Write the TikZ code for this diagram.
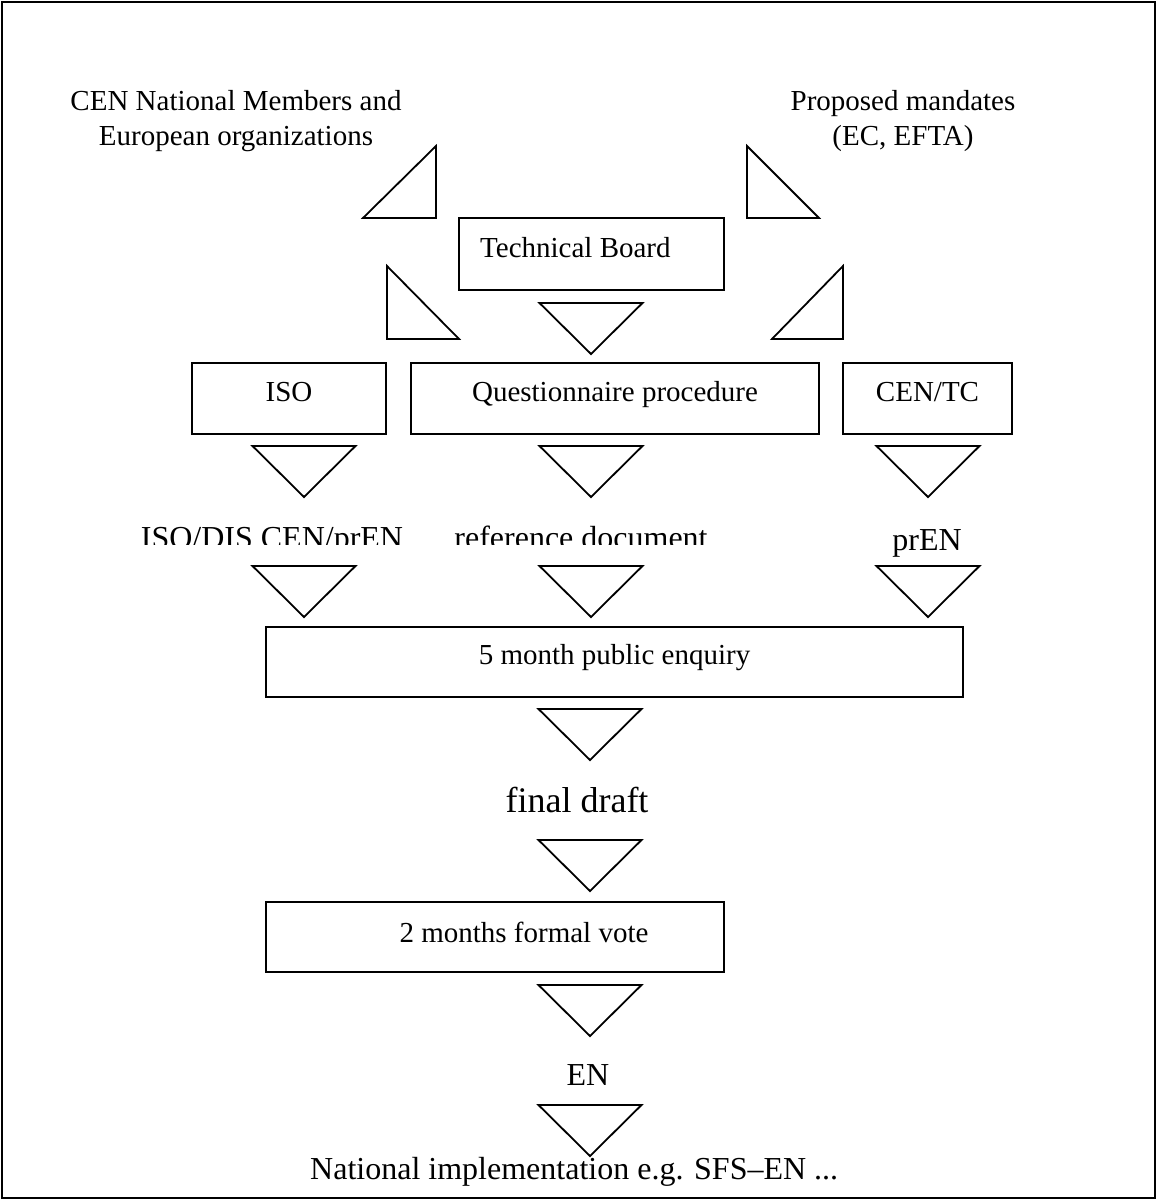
\documentclass[tikz,border=0pt]{standalone}
\usepackage{fontspec}
\setmainfont{Liberation Serif}
\begin{document}
\begin{tikzpicture}[x=1pt,y=-1pt,
  box/.style={draw, line width=1.8pt, inner sep=0pt, font=\fontsize{29}{34}\selectfont, text height=19pt, text depth=14pt},
  lbl/.style={inner sep=0pt, font=\fontsize{32}{36}\selectfont, anchor=base},
  btxt/.style={inner sep=0pt, font=\fontsize{29}{34}\selectfont, anchor=base},
  tlbl/.style={inner sep=0pt, font=\fontsize{29}{35}\selectfont, align=center},
  tri/.style={draw, line width=1.8pt, line join=miter},
  downtri/.pic={\draw[tri] (-51.5,0) -- (51.5,0) -- (0,51) -- cycle;}]
\useasboundingbox (0,0) rectangle (1157,1200);
\draw[line width=2.5pt] (2,2) rectangle (1155,1198);

% top labels
\node[tlbl] (cen) at (236,121) {CEN National Members and\\European organizations};
\node[tlbl] (mand) at (903,121) {Proposed mandates\\(EC, EFTA)};

% side triangles
\draw[tri] (436,146) -- (363,218) -- (436,218) -- cycle;
\draw[tri] (387,266) -- (387,339) -- (459,339) -- cycle;
\draw[tri] (747,146) -- (747,218) -- (819,218) -- cycle;
\draw[tri] (843,266) -- (772,339) -- (843,339) -- cycle;

% boxes
\node[box, minimum width=265pt, minimum height=72pt] (tb) at (591.5,254) {};
\node[btxt, anchor=base west] (tbt) at (480,257) {Technical Board};
\node[box, minimum width=194pt, minimum height=71pt] (iso) at (289,398.5) {ISO};
\node[box, minimum width=408pt, minimum height=71pt] (q) at (615,398.5) {Questionnaire procedure};
\node[box, minimum width=169pt, minimum height=71pt] (ctc) at (927.5,398.5) {CEN/TC};
\node[box, minimum width=697pt, minimum height=70pt] (pe) at (614.5,662) {5 month public enquiry};
\node[box, minimum width=458pt, minimum height=70pt] (vote) at (495,937) {};
\node[btxt] (votet) at (524,942) {2 months formal vote};

% labels
\begin{scope}
\clip (100,500) rectangle (800,544);
\node[lbl] (isodis) at (272,548) {ISO/DIS CEN/prEN};
\node[lbl] (ref) at (581,548) {reference document};
\end{scope}
\node[lbl] (pren) at (927,550) {prEN};
\node[lbl, font=\fontsize{36}{40}\selectfont] (fd) at (577,812) {final draft};
\node[lbl] (en) at (588,1085) {EN};
\node[lbl, anchor=base west] (nat) at (310,1179) {National implementation e.g. SFS\textendash EN ...};

% down triangles
\pic at (591,303) {downtri};
\pic at (304,446) {downtri};
\pic at (591,446) {downtri};
\pic at (928,446) {downtri};
\pic at (304,566) {downtri};
\pic at (591,566) {downtri};
\pic at (928,566) {downtri};
\pic at (590,709) {downtri};
\pic at (590,840) {downtri};
\pic at (590,985) {downtri};
\pic at (590,1105) {downtri};
\end{tikzpicture}
\end{document}
